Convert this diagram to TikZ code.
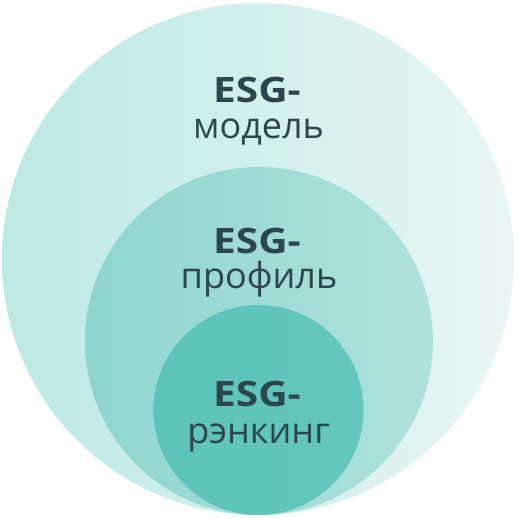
\documentclass[tikz,border=0pt]{standalone}
\usepackage{fontspec}
\setmainfont{Open Sans}
\definecolor{txt}{RGB}{45,70,78}
\definecolor{outL}{RGB}{188,233,229}
\definecolor{outR}{RGB}{232,246,244}
\definecolor{midL}{RGB}{142,213,207}
\definecolor{midR}{RGB}{176,226,221}
\definecolor{inC}{RGB}{92,195,187}
\definecolor{inR}{RGB}{100,199,191}
\newcommand{\widelbl}[1]{\scalebox{1.16}[1]{#1}}
\tikzset{
  disc/.style={circle, inner sep=0pt, draw=none},
  boldlbl/.style={anchor=base, inner sep=0pt, text=txt, font=\fontsize{35}{40}\selectfont\bfseries},
  lbl/.style={anchor=base, inner sep=0pt, text=txt, font=\fontsize{36}{40}\selectfont},
}
\begin{document}
\begin{tikzpicture}[x=1pt,y=-1pt]
\fill[white] (0,0) rectangle (518,518);
\useasboundingbox (0,0) rectangle (518,518);
\node[disc, minimum size=512pt, left color=outL, right color=outR] (outer) at (258,259) {};
\node[disc, minimum size=348pt, left color=midL, right color=midR] (middle) at (259,341) {};
\node[disc, minimum size=210pt, left color=inC, right color=inR] (inner) at (258.5,410) {};
\node[boldlbl] (l1a) at (257,103) {\widelbl{ESG-}};
\node[lbl] (l1b) at (258.5,139) {модель};
\node[boldlbl] (l2a) at (257,253) {\widelbl{ESG-}};
\node[lbl] (l2b) at (259,288) {профиль};
\node[boldlbl] (l3a) at (257,406) {\widelbl{ESG-}};
\node[lbl] (l3b) at (258.5,443) {рэнкинг};
\end{tikzpicture}
\end{document}
